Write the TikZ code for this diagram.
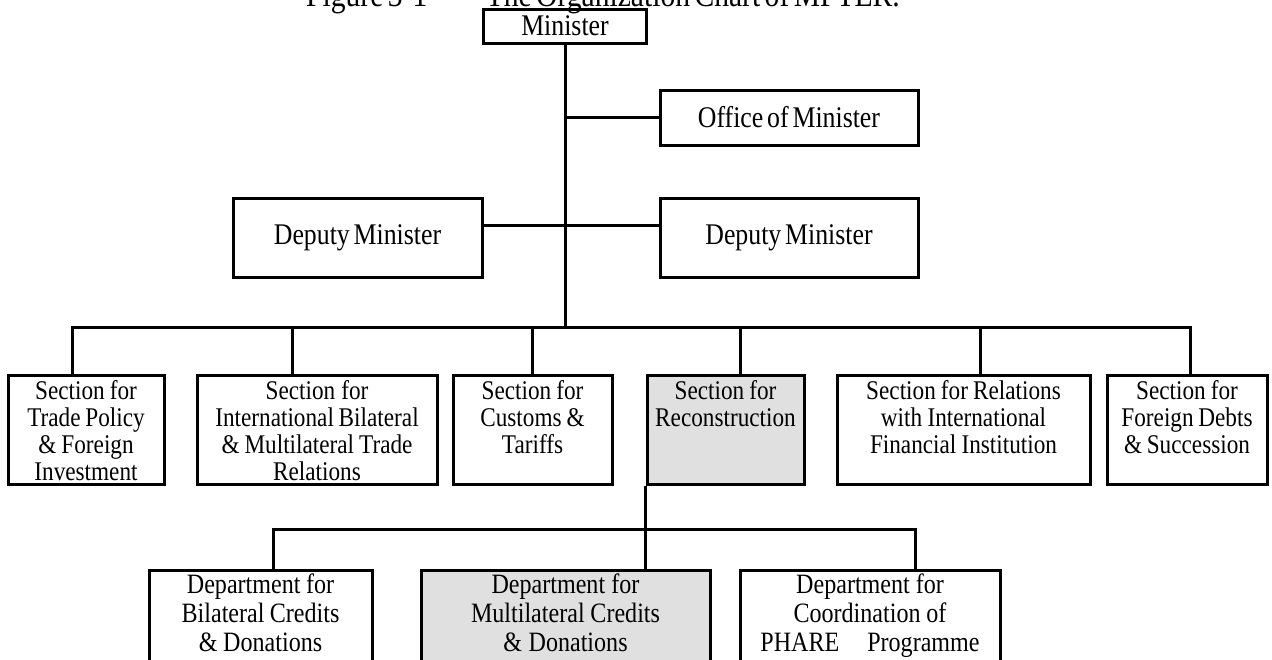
\documentclass[tikz,border=0pt]{standalone}
\usepackage{fontspec}
\setmainfont[FakeStretch=0.86,WordSpace=0.6]{Liberation Serif}
\usepackage{tikz}
\tikzset{wire/.style={line width=1.5pt}}
\tikzset{unit/.style={draw,line width=1.5pt,inner sep=0pt,font=\fontsize{15}{16}\selectfont}}
\tikzset{sec/.style={unit,anchor=north,align=center,text height=12pt,text depth=42.5pt,font=\fontsize{13.5}{13.5}\selectfont,
    execute at begin node={\spaceskip=0.16em plus 0.05em\relax}}}
\tikzset{dept/.style={sec,text height=11.5pt,text depth=44pt,font=\fontsize{14}{14.5}\selectfont}}
\tikzset{shade/.style={fill=black!12}}

\begin{document}
\begin{tikzpicture}[x=0.5pt,y=-0.5pt]
    \useasboundingbox (0,0) rectangle (1272,659);
    \node[anchor=base,font=\fontsize{17.2}{18}\selectfont] (title) at (603,6) {Figure 3-1\hspace{1.7em}The Organization Chart of MFTER.};
    % top of the chart
    \node[unit,minimum width=81.5pt,minimum height=17pt] (min) at (565,26) {Minister};
    \node[unit,minimum width=129pt,minimum height=27.5pt] (off) at (789,117.5) {Office of Minister};
    \node[unit,minimum width=124.5pt,minimum height=39.5pt] (depL) at (357.5,237.5) {Deputy Minister};
    \node[unit,minimum width=129pt,minimum height=39.5pt] (depR) at (789,237.5) {Deputy Minister};
    \coordinate (bus) at (565,327);
    \draw[wire] (min.south) -- (bus);
    \draw[wire] (off.west) -- (off.west -| min.south);
    \draw[wire] ([yshift=6.25pt]depL.east) -- ([yshift=6.25pt]depR.west);
    % sections
    \node[sec,text width=78pt] (b1) at (86,374) {Section for\\Trade Policy\\\& Foreign\\Investment};
    \node[sec,text width=120pt] (b2) at (317,374) {Section for\\International Bilateral\\\& Multilateral Trade\\Relations};
    \node[sec,text width=79.5pt] (b3) at (532.5,374) {Section for\\Customs \&\\Tariffs};
    \node[sec,shade,text width=78.5pt] (b4) at (725.5,374) {Section for\\Reconstruction};
    \node[sec,text width=126.5pt] (b5) at (963.5,374) {Section for Relations\\with International\\Financial Institution};
    \node[sec,text width=80pt] (b6) at (1187,374) {Section for\\Foreign Debts\\\& Succession};
    \foreach \n/\dx in {b1/-7,b2/-12.5,b3/0,b4/7.25,b5/8.25,b6/1.5}
        \draw[wire] ([xshift=\dx pt]\n.north) |- (bus);
    % departments
    \node[dept,text width=111.5pt] (d1) at (260.5,569) {Department for\\Bilateral Credits\\\& Donations};
    \node[dept,shade,text width=144.5pt] (d2) at (565.5,569) {Department for\\Multilateral Credits\\\& Donations};
    \node[dept,text width=130pt] (d3) at (870,569) {Department for\\Coordination of\\PHARE\quad Programme};
    \coordinate (sub) at (647,529);
    \draw[wire] (b4.south west) -- (b4.south west |- d2.north);
    \draw[wire] ([xshift=6.25pt]d1.north) |- (sub) -| ([xshift=22.5pt]d3.north);
\end{tikzpicture}
\end{document}
